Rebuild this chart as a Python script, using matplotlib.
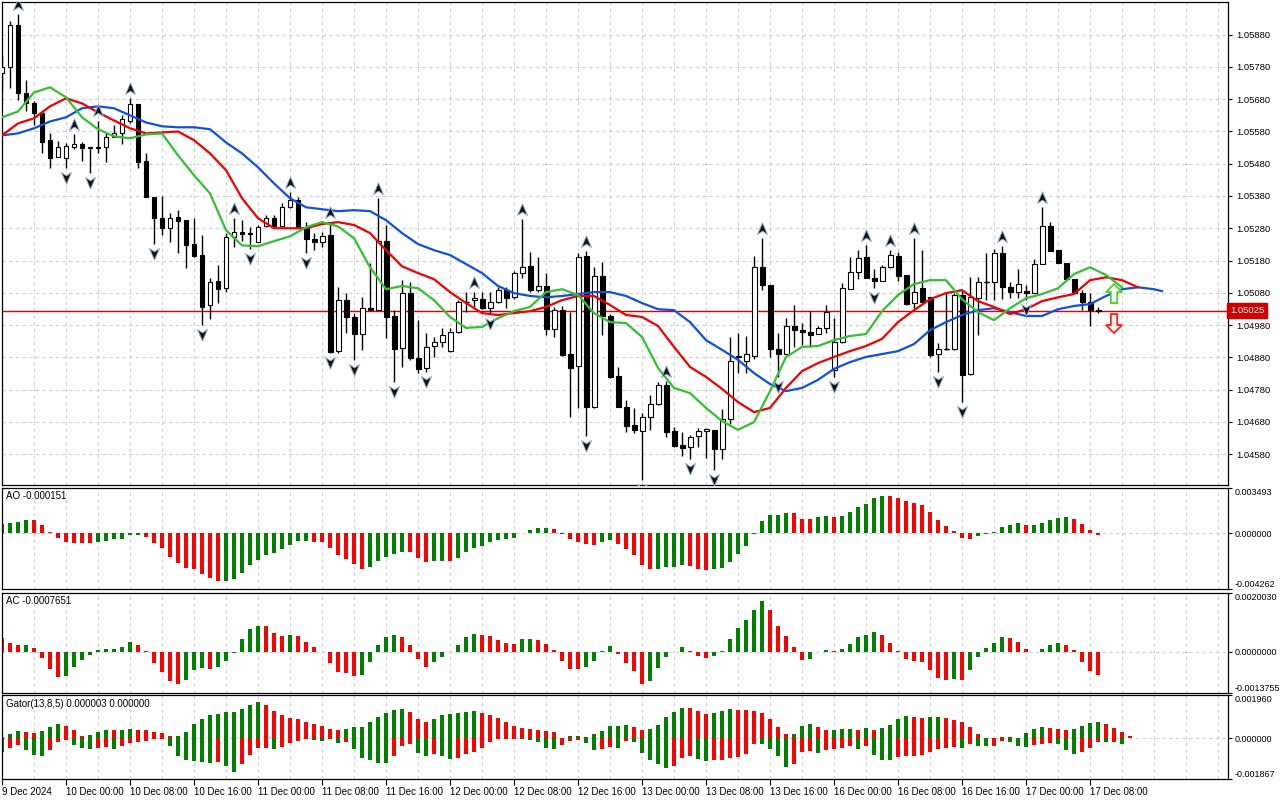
import numpy as np
import matplotlib.pyplot as plt
from matplotlib.path import Path
from matplotlib.patches import Polygon
from matplotlib.transforms import blended_transform_factory

plt.rcParams['font.family'] = ['Liberation Sans', 'DejaVu Sans']

# EURUSD H1, 9 Dec 16:00 .. 17 Dec 09:00 (138 bars)
opens = [1.05760, 1.05779, 1.05909, 1.05698, 1.05667, 1.05636, 1.05553, 1.05500, 1.05497, 1.05531,
         1.05540, 1.05531, 1.05528, 1.05531, 1.05562, 1.05574, 1.05614, 1.05664, 1.05488, 1.05376,
         1.05311, 1.05280, 1.05314, 1.05305, 1.05231, 1.05197, 1.05042, 1.05116, 1.05094, 1.05252,
         1.05268, 1.05265, 1.05237, 1.05286, 1.05311, 1.05286, 1.05345, 1.05367, 1.05280, 1.05246,
         1.05237, 1.05258, 1.04899, 1.05057, 1.05005, 1.04952, 1.05032, 1.05026, 1.05240, 1.05008,
         1.04909, 1.05079, 1.04878, 1.04847, 1.04915, 1.04927, 1.04899, 1.04958, 1.05051, 1.05057,
         1.05060, 1.05032, 1.05051, 1.05088, 1.05066, 1.05141, 1.05162, 1.05088, 1.05101, 1.04967,
         1.05026, 1.04890, 1.04853, 1.05193, 1.04726, 1.05131, 1.05008, 1.04822, 1.04726, 1.04670,
         1.04652, 1.04695, 1.04735, 1.04794, 1.04652, 1.04608, 1.04602, 1.04636, 1.04652, 1.04655,
         1.04596, 1.04689, 1.04881, 1.04869, 1.04884, 1.05159, 1.05104, 1.04906, 1.04890, 1.04977,
         1.04964, 1.04958, 1.04952, 1.04971, 1.04841, 1.04927, 1.05091, 1.05144, 1.05190, 1.05125,
         1.05116, 1.05159, 1.05193, 1.05135, 1.05048, 1.05094, 1.05066, 1.04890, 1.04906, 1.04906,
         1.05073, 1.04828, 1.05063, 1.05113, 1.05113, 1.05203, 1.05097, 1.05082, 1.05085, 1.05079,
         1.05169, 1.05286, 1.05212, 1.05172, 1.05122, 1.05079, 1.05051, 1.05026]
highs = [1.05816, 1.05924, 1.05943, 1.05741, 1.05676, 1.05645, 1.05574, 1.05549, 1.05543, 1.05571,
         1.05546, 1.05531, 1.05614, 1.05574, 1.05599, 1.05630, 1.05683, 1.05664, 1.05512, 1.05376,
         1.05379, 1.05327, 1.05336, 1.05305, 1.05311, 1.05258, 1.05125, 1.05166, 1.05265, 1.05311,
         1.05305, 1.05283, 1.05289, 1.05320, 1.05320, 1.05357, 1.05392, 1.05376, 1.05299, 1.05265,
         1.05268, 1.05299, 1.05097, 1.05079, 1.05017, 1.05066, 1.05172, 1.05373, 1.05290, 1.05026,
         1.05119, 1.05113, 1.04995, 1.04955, 1.04943, 1.04971, 1.04971, 1.05057, 1.05082, 1.05082,
         1.05082, 1.05082, 1.05097, 1.05097, 1.05147, 1.05308, 1.05206, 1.05190, 1.05141, 1.05036,
         1.05039, 1.05020, 1.05203, 1.05209, 1.05159, 1.05175, 1.05014, 1.04850, 1.04748, 1.04723,
         1.04707, 1.04763, 1.04803, 1.04806, 1.04664, 1.04649, 1.04639, 1.04661, 1.04661, 1.04655,
         1.04720, 1.04943, 1.04955, 1.04946, 1.05193, 1.05249, 1.05104, 1.04955, 1.05001, 1.05042,
         1.04986, 1.05023, 1.04977, 1.05042, 1.05001, 1.05110, 1.05190, 1.05212, 1.05227, 1.05153,
         1.05166, 1.05212, 1.05206, 1.05135, 1.05249, 1.05212, 1.05066, 1.04924, 1.05079, 1.05079,
         1.05088, 1.05128, 1.05128, 1.05203, 1.05215, 1.05224, 1.05113, 1.05153, 1.05104, 1.05184,
         1.05345, 1.05299, 1.05212, 1.05172, 1.05122, 1.05088, 1.05079, 1.05036]
lows = [1.05707, 1.05714, 1.05679, 1.05645, 1.05599, 1.05512, 1.05466, 1.05500, 1.05466, 1.05525,
        1.05488, 1.05450, 1.05512, 1.05484, 1.05562, 1.05540, 1.05605, 1.05466, 1.05376, 1.05231,
        1.05258, 1.05237, 1.05203, 1.05156, 1.05190, 1.04980, 1.04998, 1.05048, 1.05082, 1.05221,
        1.05240, 1.05215, 1.05237, 1.05283, 1.05283, 1.05283, 1.05342, 1.05280, 1.05203, 1.05212,
        1.05221, 1.04893, 1.04893, 1.04955, 1.04872, 1.04903, 1.05026, 1.05026, 1.04940, 1.04803,
        1.04850, 1.04872, 1.04831, 1.04834, 1.04881, 1.04912, 1.04896, 1.04955, 1.05020, 1.05036,
        1.05029, 1.05014, 1.05048, 1.05032, 1.05060, 1.05125, 1.05082, 1.05082, 1.04949, 1.04943,
        1.04884, 1.04695, 1.04723, 1.04636, 1.04723, 1.04949, 1.04816, 1.04726, 1.04649, 1.04646,
        1.04500, 1.04655, 1.04732, 1.04633, 1.04602, 1.04574, 1.04565, 1.04602, 1.04568, 1.04531,
        1.04565, 1.04673, 1.04831, 1.04831, 1.04875, 1.05088, 1.04881, 1.04819, 1.04890, 1.04912,
        1.04918, 1.04912, 1.04952, 1.04955, 1.04819, 1.04924, 1.05091, 1.05122, 1.05125, 1.05094,
        1.05116, 1.05156, 1.05116, 1.05042, 1.05029, 1.05048, 1.04881, 1.04834, 1.04903, 1.04903,
        1.04741, 1.04825, 1.04949, 1.05057, 1.05057, 1.05060, 1.05063, 1.05063, 1.05057, 1.05079,
        1.05169, 1.05209, 1.05172, 1.05122, 1.05079, 1.05026, 1.04977, 1.05017]
closes = [1.05779, 1.05909, 1.05698, 1.05667, 1.05636, 1.05546, 1.05497, 1.05531, 1.05534, 1.05540,
          1.05528, 1.05528, 1.05531, 1.05562, 1.05574, 1.05618, 1.05664, 1.05484, 1.05376, 1.05311,
          1.05280, 1.05311, 1.05302, 1.05227, 1.05193, 1.05036, 1.05113, 1.05091, 1.05252, 1.05268,
          1.05262, 1.05262, 1.05283, 1.05311, 1.05286, 1.05345, 1.05367, 1.05280, 1.05246, 1.05237,
          1.05255, 1.04896, 1.05057, 1.05005, 1.04952, 1.05032, 1.05026, 1.05240, 1.05005, 1.04906,
          1.05079, 1.04878, 1.04844, 1.04912, 1.04927, 1.04949, 1.04958, 1.05051, 1.05051, 1.05063,
          1.05032, 1.05051, 1.05088, 1.05063, 1.05141, 1.05159, 1.05088, 1.05101, 1.04967, 1.05026,
          1.04887, 1.04847, 1.05190, 1.04726, 1.05131, 1.05008, 1.04819, 1.04726, 1.04667, 1.04655,
          1.04695, 1.04735, 1.04794, 1.04649, 1.04605, 1.04599, 1.04633, 1.04652, 1.04658, 1.04596,
          1.04689, 1.04869, 1.04884, 1.04890, 1.05159, 1.05104, 1.04906, 1.04890, 1.04977, 1.04964,
          1.04958, 1.04949, 1.04971, 1.05020, 1.04927, 1.05094, 1.05144, 1.05187, 1.05125, 1.05116,
          1.05159, 1.05197, 1.05131, 1.05045, 1.05082, 1.05051, 1.04887, 1.04906, 1.04906, 1.05073,
          1.04825, 1.05066, 1.05113, 1.05113, 1.05203, 1.05097, 1.05082, 1.05107, 1.05079, 1.05169,
          1.05286, 1.05209, 1.05172, 1.05122, 1.05079, 1.05051, 1.05026, 1.05025]

# Alligator lines, read every second bar (jaw also at its last bar 145)
jaw_bars = list(range(0, 145, 2)) + [145]
jaw = [1.05568, 1.05574, 1.05590, 1.05611, 1.05624, 1.05652, 1.05658, 1.05652, 1.05630, 1.05608,
       1.05596, 1.05593, 1.05593, 1.05587, 1.05546, 1.05512, 1.05469, 1.05419, 1.05373, 1.05345,
       1.05339, 1.05333, 1.05336, 1.05333, 1.05305, 1.05265, 1.05231, 1.05212, 1.05197, 1.05169,
       1.05141, 1.05101, 1.05079, 1.05070, 1.05066, 1.05070, 1.05076, 1.05082, 1.05082, 1.05070,
       1.05048, 1.05029, 1.05026, 1.04989, 1.04933, 1.04903, 1.04872, 1.04831, 1.04797, 1.04775,
       1.04785, 1.04810, 1.04844, 1.04865, 1.04881, 1.04890, 1.04899, 1.04921, 1.04964, 1.04989,
       1.05011, 1.05026, 1.05032, 1.05020, 1.05008, 1.05008, 1.05029, 1.05039, 1.05045, 1.05070,
       1.05091, 1.05097, 1.05091, 1.05085]
teeth_bars = list(range(0, 143, 2))
teeth = [1.05568, 1.05605, 1.05621, 1.05658, 1.05683, 1.05667, 1.05639, 1.05614, 1.05590, 1.05574,
         1.05577, 1.05580, 1.05553, 1.05512, 1.05460, 1.05373, 1.05311, 1.05280, 1.05280, 1.05280,
         1.05293, 1.05299, 1.05290, 1.05265, 1.05212, 1.05162, 1.05141, 1.05122, 1.05082, 1.05048,
         1.05017, 1.05011, 1.05017, 1.05023, 1.05036, 1.05057, 1.05070, 1.05070, 1.05042, 1.05011,
         1.05005, 1.04977, 1.04912, 1.04850, 1.04819, 1.04782, 1.04741, 1.04710, 1.04723, 1.04785,
         1.04837, 1.04862, 1.04881, 1.04899, 1.04915, 1.04937, 1.04989, 1.05026, 1.05060, 1.05079,
         1.05088, 1.05054, 1.05036, 1.05014, 1.05029, 1.05054, 1.05066, 1.05076, 1.05119, 1.05128,
         1.05119, 1.05097]
lips_bars = list(range(0, 141, 2))
lips = [1.05624, 1.05642, 1.05701, 1.05717, 1.05686, 1.05624, 1.05587, 1.05565, 1.05559, 1.05571,
        1.05574, 1.05506, 1.05444, 1.05388, 1.05274, 1.05227, 1.05224, 1.05240, 1.05255, 1.05283,
        1.05299, 1.05286, 1.05249, 1.05159, 1.05091, 1.05101, 1.05094, 1.05057, 1.05005, 1.04971,
        1.04974, 1.05001, 1.05023, 1.05036, 1.05082, 1.05091, 1.05073, 1.05017, 1.04989, 1.04986,
        1.04943, 1.04847, 1.04785, 1.04769, 1.04723, 1.04682, 1.04655, 1.04679, 1.04775, 1.04881,
        1.04912, 1.04915, 1.04933, 1.04946, 1.04952, 1.05023, 1.05073, 1.05107, 1.05119, 1.05119,
        1.05060, 1.05020, 1.04995, 1.05032, 1.05063, 1.05076, 1.05094, 1.05138, 1.05159, 1.05135,
        1.05097]

fractal_up = [2, 9, 12, 16, 29, 36, 41, 47, 59, 65, 73, 83, 95, 108, 111, 114, 125, 130]
fractal_down = [8, 11, 19, 25, 31, 38, 41, 44, 49, 53, 61, 73, 80, 86, 89, 97, 104, 109, 117, 120, 128]

ao = [0.00074, 0.00082, 0.00090, 0.00105, 0.00103, 0.00064, 0.00010, -0.00033, -0.00067, -0.00072,
      -0.00073, -0.00074, -0.00064, -0.00054, -0.00046, -0.00041, -0.00010, -0.00008, -0.00026, -0.00072,
      -0.00110, -0.00179, -0.00230, -0.00264, -0.00269, -0.00312, -0.00340, -0.00363, -0.00362, -0.00348,
      -0.00302, -0.00243, -0.00202, -0.00164, -0.00148, -0.00118, -0.00087, -0.00061, -0.00059, -0.00062,
      -0.00063, -0.00110, -0.00164, -0.00195, -0.00233, -0.00269, -0.00256, -0.00211, -0.00179, -0.00159,
      -0.00141, -0.00142, -0.00189, -0.00220, -0.00212, -0.00211, -0.00213, -0.00187, -0.00141, -0.00113,
      -0.00097, -0.00064, -0.00051, -0.00041, -0.00036, 0.00003, 0.00028, 0.00041, 0.00042, 0.00033,
      -0.00002, -0.00041, -0.00064, -0.00079, -0.00087, -0.00064, -0.00051, -0.00079, -0.00118, -0.00166,
      -0.00243, -0.00271, -0.00270, -0.00258, -0.00257, -0.00243, -0.00251, -0.00271, -0.00279, -0.00272,
      -0.00264, -0.00218, -0.00159, -0.00097, -0.00002, 0.00095, 0.00141, 0.00142, 0.00156, 0.00155,
      0.00110, 0.00109, 0.00125, 0.00133, 0.00126, 0.00133, 0.00166, 0.00202, 0.00228, 0.00271,
      0.00287, 0.00286, 0.00269, 0.00246, 0.00233, 0.00218, 0.00166, 0.00105, 0.00056, 0.00018,
      -0.00033, -0.00044, -0.00020, -0.00005, 0.00010, 0.00051, 0.00064, 0.00079, 0.00064, 0.00065,
      0.00079, 0.00105, 0.00120, 0.00125, 0.00110, 0.00072, 0.00026, -0.00015]
ac = [0.00046, 0.00030, 0.00024, 0.00025, 0.00014, -0.00019, -0.00059, -0.00083, -0.00081, -0.00051,
      -0.00026, -0.00009, 0.00007, 0.00009, 0.00010, 0.00016, 0.00034, 0.00024, 0.00003, -0.00036,
      -0.00068, -0.00098, -0.00107, -0.00093, -0.00060, -0.00053, -0.00057, -0.00051, -0.00029, -0.00002,
      0.00044, 0.00077, 0.00088, 0.00087, 0.00064, 0.00054, 0.00057, 0.00054, 0.00035, 0.00017,
      -0.00001, -0.00036, -0.00066, -0.00071, -0.00080, -0.00077, -0.00033, 0.00024, 0.00051, 0.00057,
      0.00051, 0.00024, -0.00023, -0.00051, -0.00033, -0.00016, -0.00001, 0.00024, 0.00051, 0.00061,
      0.00057, 0.00054, 0.00041, 0.00030, 0.00027, 0.00044, 0.00045, 0.00041, 0.00027, 0.00007,
      -0.00030, -0.00057, -0.00058, -0.00051, -0.00030, 0.00002, 0.00020, -0.00006, -0.00036, -0.00064,
      -0.00107, -0.00098, -0.00054, -0.00017, 0.00001, 0.00017, 0.00003, -0.00012, -0.00019, -0.00012,
      0.00003, 0.00044, 0.00081, 0.00108, 0.00142, 0.00172, 0.00142, 0.00088, 0.00054, 0.00017,
      -0.00027, -0.00023, -0.00001, 0.00007, 0.00003, 0.00010, 0.00028, 0.00051, 0.00057, 0.00068,
      0.00057, 0.00030, 0.00003, -0.00023, -0.00029, -0.00033, -0.00060, -0.00087, -0.00093, -0.00090,
      -0.00094, -0.00060, -0.00016, 0.00014, 0.00030, 0.00051, 0.00047, 0.00034, 0.00010, -0.00001,
      0.00010, 0.00024, 0.00030, 0.00024, 0.00007, -0.00033, -0.00064, -0.00077]
gator_up = [0.00008, 0.00018, 0.00033, 0.00029, 0.00024, 0.00033, 0.00052, 0.00065, 0.00056, 0.00038,
            0.00011, 0.00015, 0.00029, 0.00038, 0.00037, 0.00038, 0.00043, 0.00038, 0.00037, 0.00029,
            0.00024, 0.00011, 0.00012, 0.00029, 0.00065, 0.00088, 0.00106, 0.00111, 0.00120, 0.00121,
            0.00134, 0.00152, 0.00166, 0.00152, 0.00125, 0.00106, 0.00093, 0.00088, 0.00074, 0.00065,
            0.00056, 0.00043, 0.00038, 0.00043, 0.00052, 0.00053, 0.00074, 0.00097, 0.00115, 0.00129,
            0.00134, 0.00120, 0.00088, 0.00074, 0.00088, 0.00106, 0.00111, 0.00115, 0.00120, 0.00125,
            0.00115, 0.00106, 0.00093, 0.00074, 0.00056, 0.00047, 0.00043, 0.00038, 0.00033, 0.00029,
            0.00002, 0.00011, 0.00012, 0.00006, 0.00020, 0.00033, 0.00056, 0.00057, 0.00061, 0.00052,
            0.00038, 0.00043, 0.00061, 0.00097, 0.00120, 0.00138, 0.00137, 0.00125, 0.00111, 0.00115,
            0.00125, 0.00134, 0.00129, 0.00128, 0.00125, 0.00115, 0.00088, 0.00052, 0.00020, 0.00021,
            0.00056, 0.00065, 0.00052, 0.00038, 0.00039, 0.00043, 0.00044, 0.00038, 0.00047, 0.00039,
            0.00047, 0.00061, 0.00088, 0.00102, 0.00097, 0.00093, 0.00097, 0.00098, 0.00093, 0.00084,
            0.00074, 0.00052, 0.00020, 0.00001, 0.00003, 0.00006, 0.00005, 0.00003, 0.00024, 0.00043,
            0.00052, 0.00047, 0.00043, 0.00038, 0.00043, 0.00056, 0.00070, 0.00074, 0.00065, 0.00047,
            0.00029, 0.00011, 0.00003]
gator_down = [0.00061, 0.00043, 0.00030, 0.00053, 0.00076, 0.00081, 0.00053, 0.00015, 0.00008, 0.00030,
              0.00043, 0.00049, 0.00043, 0.00038, 0.00049, 0.00033, 0.00023, 0.00018, 0.00012, 0.00005,
              0.00003, 0.00033, 0.00081, 0.00099, 0.00102, 0.00106, 0.00111, 0.00106, 0.00125, 0.00152,
              0.00115, 0.00076, 0.00046, 0.00045, 0.00047, 0.00038, 0.00023, 0.00011, 0.00005, 0.00008,
              0.00012, 0.00001, 0.00020, 0.00019, 0.00049, 0.00088, 0.00099, 0.00111, 0.00112, 0.00079,
              0.00033, 0.00024, 0.00065, 0.00079, 0.00070, 0.00079, 0.00093, 0.00088, 0.00070, 0.00061,
              0.00043, 0.00015, 0.00003, 0.00002, 0.00001, 0.00004, 0.00009, 0.00015, 0.00043, 0.00049,
              0.00029, 0.00011, 0.00006, 0.00020, 0.00052, 0.00049, 0.00038, 0.00043, 0.00011, 0.00015,
              0.00065, 0.00100, 0.00115, 0.00134, 0.00125, 0.00088, 0.00079, 0.00093, 0.00102, 0.00101,
              0.00097, 0.00088, 0.00084, 0.00070, 0.00024, 0.00025, 0.00047, 0.00079, 0.00129, 0.00115,
              0.00061, 0.00056, 0.00065, 0.00052, 0.00047, 0.00043, 0.00033, 0.00050, 0.00034, 0.00074,
              0.00097, 0.00098, 0.00084, 0.00080, 0.00079, 0.00078, 0.00061, 0.00047, 0.00043, 0.00038,
              0.00043, 0.00024, 0.00033, 0.00034, 0.00033, 0.00011, 0.00015, 0.00033, 0.00038, 0.00029,
              0.00024, 0.00020, 0.00024, 0.00052, 0.00070, 0.00061, 0.00043, 0.00015, 0.00016, 0.00016,
              0.00024]

last_price = 1.05025
signal_bar = 139
buy_arrow_base = 1.05048
sell_arrow_top = 1.05014

price_ticks = [1.04580, 1.04680, 1.04780, 1.04880, 1.04980, 1.05080, 1.05180,
               1.05280, 1.05380, 1.05480, 1.05580, 1.05680, 1.05780, 1.05880]
time_labels = ['9 Dec 2024', '10 Dec 00:00', '10 Dec 08:00', '10 Dec 16:00', '11 Dec 00:00',
               '11 Dec 08:00', '11 Dec 16:00', '12 Dec 00:00', '12 Dec 08:00', '12 Dec 16:00',
               '13 Dec 00:00', '13 Dec 08:00', '13 Dec 16:00', '16 Dec 00:00', '16 Dec 08:00',
               '16 Dec 16:00', '17 Dec 00:00', '17 Dec 08:00']

GREEN = '#008000'
RED = '#ff0000'
GRID = '#cfcfcf'
FS = 6.5
grid_bars = np.arange(4, 153, 4)


def style(a):
    a.set_xlim(-0.06, 153.25)
    a.yaxis.tick_right()
    a.tick_params(axis='y', direction='out', length=3, width=0.8, labelsize=FS, pad=1.8)
    a.tick_params(axis='x', bottom=False, labelbottom=False)
    for s in a.spines.values():
        s.set_linewidth(0.9)
        s.set_color('black')
    for g in grid_bars:
        a.axvline(g, color=GRID, lw=0.8, ls=(0, (3, 3)), zorder=0)


def hist_colors(vals, first):
    cols = [first]
    for k in range(1, len(vals)):
        cols.append(GREEN if vals[k] > vals[k - 1] else RED)
    return cols


fig = plt.figure(figsize=(12.8, 8), dpi=100)
L, W = 0.0012, 0.9582
ax = fig.add_axes([L, 0.39375, W, 0.604375])
ax_ao = fig.add_axes([L, 0.26375, W, 0.12625])
ax_ac = fig.add_axes([L, 0.134125, W, 0.125])
ax_gt = fig.add_axes([L, 0.025875, W, 0.105])

# ---- main price panel
style(ax)
ax.set_ylim(1.04484, 1.05983)
ax.set_yticks(price_ticks, labels=['%.5f' % p for p in price_ticks])
ax.tick_params(axis='y', labelsize=FS + 0.3, pad=3)
for p in price_ticks:
    ax.axhline(p, color=GRID, lw=0.8, ls=(0, (3, 3)), zorder=0)

o = np.array(opens); h = np.array(highs); l = np.array(lows); c = np.array(closes)
x = np.arange(len(o))
bull = c >= o
ax.axhline(last_price, color='#e00000', lw=1, zorder=1)
ax.vlines(x, l, h, color='black', lw=1, zorder=2)
ax.bar(x, np.abs(c - o), bottom=np.minimum(o, c), width=0.62,
       color=np.where(bull, 'white', 'black'), edgecolor='black', lw=0.8, zorder=3)
doji = np.abs(c - o) < 1e-6
ax.hlines(c[doji], x[doji] - 0.31, x[doji] + 0.31, color='black', lw=1, zorder=3)

ax.plot(jaw_bars, jaw, color='#1050e0', lw=1.6, zorder=4)
ax.plot(teeth_bars, teeth, color='#f00000', lw=1.6, zorder=4)
ax.plot(lips_bars, lips, color='#33c033', lw=1.6, zorder=4)

up_arrow = Path([(0, 1), (0.75, -0.75), (0, -0.25), (-0.75, -0.75), (0, 1)],
                [Path.MOVETO, Path.LINETO, Path.LINETO, Path.LINETO, Path.CLOSEPOLY])
down_arrow = Path([(0, -1), (0.75, 0.75), (0, 0.25), (-0.75, 0.75), (0, -1)],
                  [Path.MOVETO, Path.LINETO, Path.LINETO, Path.LINETO, Path.CLOSEPOLY])
ax.scatter(fractal_up, h[fractal_up] + 0.00028, marker=up_arrow, s=90,
           c='#101010', edgecolors='#8fa8c8', linewidths=0.7, zorder=5)
ax.scatter(fractal_down, l[fractal_down] - 0.00027, marker=down_arrow, s=90,
           c='#101010', edgecolors='#8fa8c8', linewidths=0.7, zorder=5)

# signal arrows near the last bars
sh, hh = 0.00034, 0.00025
buy_shape = [(-0.4, 0), (0.4, 0), (0.4, sh), (1.0, sh), (0, sh + hh), (-1.0, sh), (-0.4, sh)]
sell_shape = [(-0.4, 0), (0.4, 0), (0.4, -sh), (1.0, -sh), (0, -sh - hh), (-1.0, -sh), (-0.4, -sh)]
ax.add_patch(Polygon([(signal_bar + dx, buy_arrow_base + dy) for dx, dy in buy_shape],
                     closed=True, facecolor='#f4fff0', edgecolor='#55cc33', lw=1.3, zorder=6))
ax.add_patch(Polygon([(signal_bar + dx, sell_arrow_top + dy) for dx, dy in sell_shape],
                     closed=True, facecolor='#fff4f0', edgecolor='#ff2020', lw=1.3, zorder=6))

tr = blended_transform_factory(ax.transAxes, ax.transData)
ax.text(1.0015, last_price, '%.5f' % last_price, transform=tr, color='white', fontsize=FS + 0.3,
        va='center', ha='left', zorder=10,
        bbox=dict(boxstyle='square,pad=0.3', facecolor='#d00000', edgecolor='#d00000'))


def sub_panel(a, lo, hi, labels, title):
    style(a)
    a.set_ylim(lo, hi)
    a.set_yticks([lo, 0, hi], labels=labels)
    tl = a.get_yticklabels()
    tl[0].set_va('bottom')
    tl[-1].set_va('top')
    a.axhline(0, color=GRID, lw=0.8, ls=(0, (3, 3)), zorder=0)
    a.annotate(title, xy=(0, 1), xycoords='axes fraction', xytext=(3.5, -2.5),
               textcoords='offset points', va='top', ha='left', fontsize=7)


# ---- AO
sub_panel(ax_ao, -0.004262, 0.003493, ['-0.004262', '0.000000', '0.003493'], 'AO -0.000151')
ax_ao.bar(np.arange(len(ao)), ao, width=0.55, color=hist_colors(ao, GREEN), zorder=2)

# ---- AC
sub_panel(ax_ac, -0.0013755, 0.0020030, ['-0.0013755', '0.0000000', '0.0020030'], 'AC -0.0007651')
ax_ac.bar(np.arange(len(ac)), ac, width=0.55, color=hist_colors(ac, RED), zorder=2)

# ---- Gator
sub_panel(ax_gt, -0.001867, 0.001960, ['-0.001867', '0.000000', '0.001960'],
          'Gator(13,8,5) 0.000003 0.000000')
ax_gt.bar(np.arange(len(gator_up)), gator_up, width=0.55, color=hist_colors(gator_up, RED), zorder=2)
ax_gt.bar(np.arange(len(gator_down)), -np.array(gator_down), width=0.55,
          color=hist_colors(gator_down, GREEN), zorder=2)

label_bars = np.arange(0, 137, 8)
ax_gt.tick_params(axis='x', bottom=True, labelbottom=True, direction='out', length=4,
                  width=0.8, labelsize=7, pad=1.5)
ax_gt.set_xticks(label_bars, labels=time_labels)
for t in ax_gt.get_xticklabels():
    t.set_ha('left')

fig.savefig('out.png', dpi=100)
